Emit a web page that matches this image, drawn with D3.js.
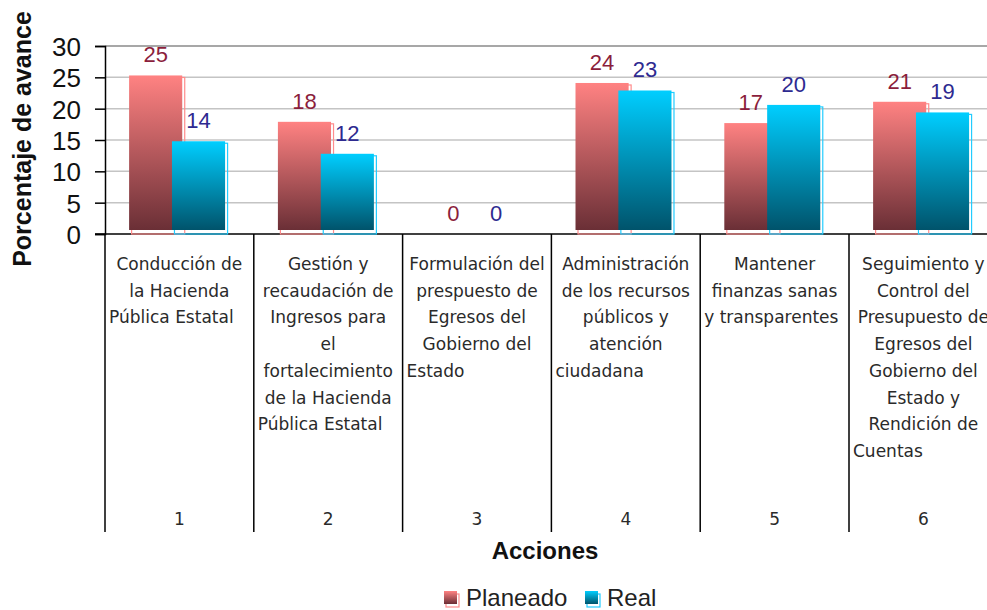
<!DOCTYPE html>
<html><head><meta charset="utf-8">
<script src="https://cdn.jsdelivr.net/npm/d3@7/dist/d3.min.js"></script>
<style>html,body{margin:0;padding:0;background:#fff;overflow:hidden}</style>
</head><body>
<svg id="c" width="987" height="610"></svg>
<script>
const categories = ["1","2","3","4","5","6"];
const categoryText = [
  ["Conducción de","la Hacienda","Pública Estatal"],
  ["Gestión y","recaudación de","Ingresos para","el","fortalecimiento","de la Hacienda","Pública Estatal"],
  ["Formulación del","prespuesto de","Egresos del","Gobierno del","Estado"],
  ["Administración","de los recursos","públicos y","atención","ciudadana"],
  ["Mantener","finanzas sanas","y transparentes"],
  ["Seguimiento y","Control del","Presupuesto de","Egresos del","Gobierno del","Estado y","Rendición de","Cuentas"]
];
const planeado = [25.3, 17.9, 0, 24.1, 17.7, 21.1];
const real = [14.8, 12.8, 0, 22.9, 20.6, 19.4];
const planeadoLabels = ["25","18","0","24","17","21"];
const realLabels = ["14","12","0","23","20","19"];
const yTicks = [0,5,10,15,20,25,30];
const seriesNames = ["Planeado","Real"];

const svg = d3.select("#c");
const defs = svg.append("defs");
function grad(id, top, bottom){
  const g = defs.append("linearGradient").attr("id",id).attr("x1",0).attr("y1",0).attr("x2",0).attr("y2",1);
  g.append("stop").attr("offset","0%").attr("stop-color",top);
  g.append("stop").attr("offset","100%").attr("stop-color",bottom);
}
grad("gP","#FF8282","#6A2F36");
grad("gR","#00CEFF","#00536B");

const left = 105, bw0 = 148.8;
const x = d3.scaleBand().domain(categories).range([left, left + bw0*categories.length]).padding(0);
const y = d3.scaleLinear().domain([0,30]).range([234,46]);
const bw = x.bandwidth();
const FONT = "'Liberation Sans', Arial, sans-serif";

// gridlines
svg.append("g").selectAll("line").data(yTicks.filter(d=>d>0)).join("line")
  .attr("x1",left).attr("x2",987).attr("y1",d=>y(d)).attr("y2",d=>y(d))
  .attr("stroke",d=>d===30?"#8a8a8a":"#c4c4c4").attr("stroke-width",1.5);

// y axis
const yAxis = d3.axisLeft(y).tickValues(yTicks).tickSize(10).tickPadding(14);
const ga = svg.append("g").attr("transform",`translate(${left},0)`).call(yAxis);
ga.select(".domain").attr("stroke","#000").attr("stroke-width",1.5);
ga.selectAll(".tick line").attr("stroke","#000").attr("stroke-width",1.5);
ga.selectAll(".tick text").attr("font-family",FONT).attr("font-size",26).attr("fill","#111").attr("dy","0.36em");

// bottom line of plot and category table
svg.append("line").attr("x1",left-10).attr("x2",987).attr("y1",y(0)).attr("y2",y(0)).attr("stroke","#000").attr("stroke-width",1.5);
svg.append("g").selectAll("line").data(categories).join("line")
  .attr("x1",d=>x(d)).attr("x2",d=>x(d)).attr("y1",y(0)).attr("y2",532)
  .attr("stroke","#000").attr("stroke-width",1.5);

// bars
const barW = bw*0.357;
const offs = [bw*0.162, bw*0.45];
const series = [
  {vals:planeado, labels:planeadoLabels, fill:"url(#gP)", stroke:"#FF8C8C", lab:"#8B1E3C", off:offs[0]},
  {vals:real, labels:realLabels, fill:"url(#gR)", stroke:"#22CCFF", lab:"#2E2A90", off:offs[1]}
];
series.forEach(s=>{
  const g = svg.append("g");
  const data = categories.map((c,i)=>({c, v:s.vals[i], l:s.labels[i]}));
  g.selectAll("rect.back").data(data.filter(d=>d.v>0)).join("rect").attr("class","back")
    .attr("x",d=>x(d.c)+s.off+2.5).attr("y",d=>y(d.v)+2)
    .attr("width",barW).attr("height",d=>y(0)-y(d.v)-2)
    .attr("fill","none").attr("stroke",s.stroke).attr("stroke-width",1.2);
  g.selectAll("rect.front").data(data.filter(d=>d.v>0)).join("rect").attr("class","front")
    .attr("x",d=>x(d.c)+s.off).attr("y",d=>y(d.v))
    .attr("width",barW).attr("height",d=>Math.max(0,y(0)-4-y(d.v)))
    .attr("fill",s.fill);
  g.selectAll("text").data(data).join("text")
    .attr("x",d=>x(d.c)+s.off+barW/2).attr("y",d=>y(d.v)-13)
    .attr("text-anchor","middle").attr("font-family",FONT).attr("font-size",22)
    .attr("fill",s.lab).text(d=>d.l);
});

// category texts
const lineH = 26.7;
categories.forEach((c,i)=>{
  const lines = categoryText[i];
  const g = svg.append("g").attr("font-family","'DejaVu Sans', Verdana, sans-serif").attr("font-size",17).attr("fill","#2a2a2a");
  lines.forEach((t,j)=>{
    const last = j===lines.length-1;
    g.append("text")
      .attr("x", last ? x(c)+4 : x(c)+bw/2)
      .attr("y", 270 + j*lineH)
      .attr("text-anchor", last ? "start" : "middle")
      .text(t);
  });
  g.append("text").attr("x",x(c)+bw/2).attr("y",525).attr("text-anchor","middle").text(c);
});

// axis titles
svg.append("text").attr("x",545).attr("y",559).attr("text-anchor","middle")
  .attr("font-family",FONT).attr("font-weight","bold").attr("font-size",24).attr("fill","#111").text("Acciones");
svg.append("text").attr("transform","translate(31,139) rotate(-90)").attr("text-anchor","middle")
  .attr("font-family",FONT).attr("font-weight","bold").attr("font-size",25).attr("fill","#111").text("Porcentaje de avance");

// legend
const leg = svg.append("g");
const legItems = [
  {name:seriesNames[0], fill:"url(#gP)", stroke:"#FF8C8C", sx:444, tx:466},
  {name:seriesNames[1], fill:"url(#gR)", stroke:"#22CCFF", sx:585, tx:607}
];
legItems.forEach(d=>{
  leg.append("rect").attr("x",d.sx+2).attr("y",594).attr("width",13).attr("height",13).attr("fill","none").attr("stroke",d.stroke).attr("stroke-width",1.2);
  leg.append("rect").attr("x",d.sx).attr("y",591).attr("width",13).attr("height",13).attr("fill",d.fill);
  leg.append("text").attr("x",d.tx).attr("y",606).attr("font-family",FONT).attr("font-size",24).attr("fill","#222").text(d.name);
});
</script>
</body></html>
